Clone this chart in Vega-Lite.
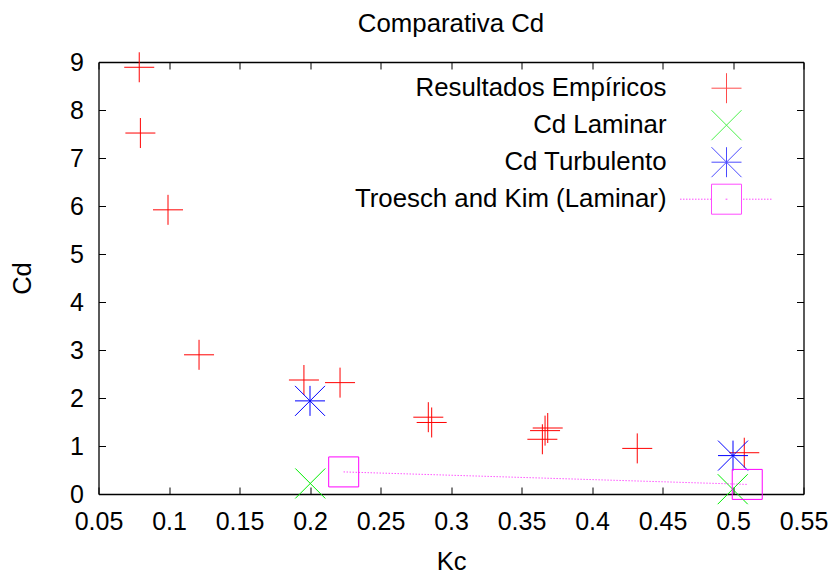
{
  "$schema": "https://vega.github.io/schema/vega-lite/v6.json",
  "width": 705,
  "height": 432,
  "autosize": {"type": "none"},
  "padding": {"left": 98.5, "top": 62, "right": 33.5, "bottom": 79},
  "background": "white",
  "title": {"text": "Comparativa Cd", "font": "Liberation Sans", "fontSize": 25.8, "fontWeight": "normal", "color": "black", "anchor": "middle", "frame": "group", "offset": 12},
  "config": {"view": {"stroke": null}, "font": "Liberation Sans"},
  "data": {"values": [
    {"Kc": 0.0789, "Cd": 8.89, "series": "Resultados Empíricos"},
    {"Kc": 0.0797, "Cd": 7.52, "series": "Resultados Empíricos"},
    {"Kc": 0.0993, "Cd": 5.92, "series": "Resultados Empíricos"},
    {"Kc": 0.1213, "Cd": 2.9, "series": "Resultados Empíricos"},
    {"Kc": 0.1957, "Cd": 2.375, "series": "Resultados Empíricos"},
    {"Kc": 0.2213, "Cd": 2.32, "series": "Resultados Empíricos"},
    {"Kc": 0.2839, "Cd": 1.6, "series": "Resultados Empíricos"},
    {"Kc": 0.2863, "Cd": 1.49, "series": "Resultados Empíricos"},
    {"Kc": 0.3648, "Cd": 1.14, "series": "Resultados Empíricos"},
    {"Kc": 0.3667, "Cd": 1.32, "series": "Resultados Empíricos"},
    {"Kc": 0.3686, "Cd": 1.375, "series": "Resultados Empíricos"},
    {"Kc": 0.4321, "Cd": 0.95, "series": "Resultados Empíricos"},
    {"Kc": 0.508, "Cd": 0.86, "series": "Resultados Empíricos"},
    {"Kc": 0.2002, "Cd": 0.22, "series": "Cd Laminar"},
    {"Kc": 0.4998, "Cd": 0.1, "series": "Cd Laminar"},
    {"Kc": 0.2, "Cd": 1.94, "series": "Cd Turbulento"},
    {"Kc": 0.5, "Cd": 0.8, "series": "Cd Turbulento"},
    {"Kc": 0.2239, "Cd": 0.46, "series": "Troesch and Kim (Laminar)"},
    {"Kc": 0.5101, "Cd": 0.2, "series": "Troesch and Kim (Laminar)"}
  ]},
  "layer": [
    {
      "mark": {"type": "point", "filled": false, "strokeWidth": 1, "size": 900, "opacity": 1},
      "encoding": {
        "x": {"field": "Kc", "type": "quantitative",
          "scale": {"domain": [0.05, 0.55], "nice": false, "zero": false},
          "axis": {"orient": "bottom", "values": [0.05, 0.1, 0.15, 0.2, 0.25, 0.3, 0.35, 0.4, 0.45, 0.5, 0.55], "format": "~g",
            "tickSize": -7, "tickColor": "black", "tickWidth": 1, "domainColor": "black", "domainWidth": 1.3, "grid": false,
            "labelFont": "Liberation Sans", "labelFontSize": 25, "labelColor": "black", "labelPadding": 22, "labelFlush": false, "labelOverlap": false,
            "title": "Kc", "titleFont": "Liberation Sans", "titleFontSize": 25.5, "titleFontWeight": "normal", "titleColor": "black", "titlePadding": 15}},
        "y": {"field": "Cd", "type": "quantitative",
          "scale": {"domain": [0, 9], "nice": false, "zero": false},
          "axis": {"orient": "left", "values": [0, 1, 2, 3, 4, 5, 6, 7, 8, 9], "format": "d",
            "tickSize": -7, "tickColor": "black", "tickWidth": 1, "domainColor": "black", "domainWidth": 1.3, "grid": false,
            "labelFont": "Liberation Sans", "labelFontSize": 25, "labelColor": "black", "labelPadding": 22, "labelFlush": false, "labelOverlap": false,
            "title": "Cd", "titleFont": "Liberation Sans", "titleFontSize": 25.5, "titleFontWeight": "normal", "titleColor": "black", "titlePadding": 34}},
        "color": {"field": "series", "type": "nominal",
          "scale": {"domain": ["Resultados Empíricos", "Cd Laminar", "Cd Turbulento", "Troesch and Kim (Laminar)"], "range": ["#ff0000", "#00ee00", "#0000ff", "#ff00ff"]},
          "legend": null},
        "shape": {"field": "series", "type": "nominal",
          "scale": {"domain": ["Resultados Empíricos", "Cd Laminar", "Cd Turbulento", "Troesch and Kim (Laminar)"], "range": ["M-1,0H1M0,-1V1", "M-1,-1L1,1M-1,1L1,-1", "M-1,0H1M0,-1V1M-1,-1L1,1M-1,1L1,-1", "M-1,-1H1V1H-1Z"]},
          "legend": null}
      }
    },
    {
      "transform": [{"filter": "datum.series === 'Troesch and Kim (Laminar)'"}],
      "mark": {"type": "line", "color": "#ff00ff", "strokeWidth": 1, "strokeDash": [1, 2]},
      "encoding": {
        "x": {"field": "Kc", "type": "quantitative",
          "axis": {"orient": "top", "values": [0.05, 0.1, 0.15, 0.2, 0.25, 0.3, 0.35, 0.4, 0.45, 0.5, 0.55], "labels": false, "title": null,
            "tickSize": -7, "tickColor": "black", "tickWidth": 1, "domainColor": "black", "domainWidth": 1.3, "grid": false}},
        "y": {"field": "Cd", "type": "quantitative",
          "axis": {"orient": "right", "values": [0, 1, 2, 3, 4, 5, 6, 7, 8, 9], "labels": false, "title": null,
            "tickSize": -7, "tickColor": "black", "tickWidth": 1, "domainColor": "black", "domainWidth": 1.3, "grid": false}}
      }
    },
    {
      "transform": [{"filter": "false"}],
      "mark": {"type": "point", "filled": false, "strokeWidth": 1, "size": 900},
      "encoding": {
        "color": {"field": "series", "type": "nominal",
          "scale": {"domain": ["Resultados Empíricos", "Cd Laminar", "Cd Turbulento", "Troesch and Kim (Laminar)"], "range": ["#ff0000", "#00ee00", "#0000ff", "#ff00ff"]},
          "legend": {"orient": "none", "legendX": 612.5, "legendY": 10.7, "title": null, "symbolSize": 900, "symbolStrokeWidth": 1,
            "labelFont": "Liberation Sans", "labelFontSize": 25.8, "labelColor": "black", "labelAlign": "right", "labelOffset": -75.5, "labelLimit": 500, "rowPadding": 2}},
        "shape": {"field": "series", "type": "nominal",
          "scale": {"domain": ["Resultados Empíricos", "Cd Laminar", "Cd Turbulento", "Troesch and Kim (Laminar)"], "range": ["M-1,0H1M0,-1V1", "M-1,-1L1,1M-1,1L1,-1", "M-1,0H1M0,-1V1M-1,-1L1,1M-1,1L1,-1", "M-1,-1L1,-1L1,1L-1,1ZM-0.06,0L0.06,0M-3.1,0L-3,0M-2.9,0L-2.8,0M-2.7,0L-2.6,0M-2.5,0L-2.4,0M-2.3,0L-2.2,0M-2.1,0L-2,0M-1.9,0L-1.8,0M-1.7,0L-1.6,0M-1.5,0L-1.4,0M-1.3,0L-1.2,0M-1.1,0L-1.03,0M1.1,0L1.2,0M1.3,0L1.4,0M1.5,0L1.6,0M1.7,0L1.8,0M1.9,0L2,0M2.1,0L2.2,0M2.3,0L2.4,0M2.5,0L2.6,0M2.7,0L2.8,0M2.9,0L3,0"]},
          "legend": {"orient": "none", "legendX": 612.5, "legendY": 10.7, "title": null, "symbolSize": 900, "symbolStrokeWidth": 1,
            "labelFont": "Liberation Sans", "labelFontSize": 25.8, "labelColor": "black", "labelAlign": "right", "labelOffset": -75.5, "labelLimit": 500, "rowPadding": 2}}
      }
    }
  ],
  "resolve": {"axis": {"x": "independent", "y": "independent"}, "scale": {"color": "independent", "shape": "independent"}}
}
